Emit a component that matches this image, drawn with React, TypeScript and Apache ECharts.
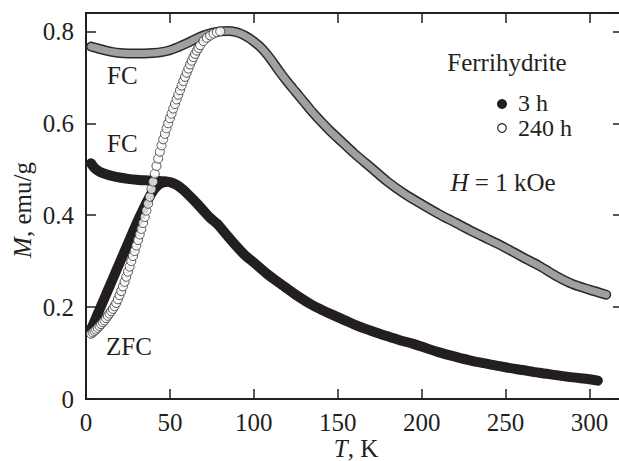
import React, { useEffect, useRef } from "react";
import * as echarts from "echarts";

// ---- Data (T in K, M in emu/g) ----
// 3 h sample, zero-field-cooled branch
const T_3H_ZFC = [3, 4, 6, 8, 10, 12, 14, 16, 18, 20, 22, 24, 26, 28, 30, 32, 34, 36, 38, 40, 42, 44, 46, 48];
const M_3H_ZFC = [0.153, 0.16, 0.177, 0.194, 0.211, 0.228, 0.245, 0.262, 0.279, 0.296, 0.313, 0.33, 0.347, 0.364, 0.381, 0.397, 0.412, 0.427, 0.441, 0.453, 0.462, 0.468, 0.471, 0.473];
// 3 h sample, field-cooled branch (and common high-T part)
const T_3H_FC = [3, 5, 8, 12, 16, 20, 25, 30, 35, 40, 45, 50, 54, 58, 62, 66, 70, 74, 78, 80, 85, 90, 95, 100, 108, 115, 120, 127, 135, 140, 147, 155, 160, 167, 175, 181, 187, 195, 200, 210, 221, 230, 240, 250, 260, 270, 280, 290, 300, 305];
const M_3H_FC = [0.513, 0.503, 0.495, 0.489, 0.485, 0.482, 0.479, 0.477, 0.476, 0.475, 0.474, 0.472, 0.466, 0.455, 0.441, 0.426, 0.41, 0.394, 0.382, 0.374, 0.352, 0.331, 0.312, 0.297, 0.272, 0.253, 0.24, 0.222, 0.204, 0.195, 0.183, 0.17, 0.162, 0.152, 0.142, 0.135, 0.128, 0.12, 0.114, 0.102, 0.091, 0.083, 0.076, 0.069, 0.063, 0.057, 0.052, 0.047, 0.043, 0.04];
// 240 h sample, zero-field-cooled branch
const T_240H_ZFC = [3, 4, 5, 6, 7, 8, 9, 10, 11, 12, 13, 14, 15, 16, 17, 18, 19, 20, 21, 22, 23, 24, 25, 26, 27, 28, 29, 30, 31, 32, 33, 34, 35, 36, 37, 38, 39, 40, 41, 42, 43, 44, 45, 46, 47, 48, 49, 50, 51, 52, 53, 54, 55, 56, 57, 58, 59, 60, 61, 62, 63, 64, 65, 66, 67, 68, 70, 72, 74, 76, 78, 80];
const M_240H_ZFC = [0.142, 0.145, 0.148, 0.151, 0.155, 0.159, 0.163, 0.167, 0.171, 0.176, 0.181, 0.186, 0.191, 0.196, 0.202, 0.209, 0.217, 0.226, 0.235, 0.245, 0.255, 0.266, 0.277, 0.288, 0.3, 0.311, 0.322, 0.334, 0.346, 0.358, 0.37, 0.383, 0.396, 0.41, 0.425, 0.44, 0.457, 0.473, 0.49, 0.507, 0.523, 0.538, 0.552, 0.565, 0.577, 0.589, 0.6, 0.611, 0.621, 0.632, 0.642, 0.652, 0.662, 0.672, 0.682, 0.692, 0.701, 0.71, 0.719, 0.728, 0.736, 0.744, 0.751, 0.758, 0.764, 0.77, 0.779, 0.786, 0.791, 0.795, 0.798, 0.8];
// 240 h sample, field-cooled branch (and common high-T part)
const T_240H_FC = [3, 5, 8, 12, 16, 20, 25, 30, 35, 40, 45, 50, 55, 60, 65, 70, 75, 80, 85, 90, 95, 100, 105, 110, 115, 120, 125, 130, 135, 140, 145, 150, 160, 170, 180, 190, 200, 210, 220, 230, 240, 250, 260, 270, 280, 290, 300, 310];
const M_240H_FC = [0.767, 0.765, 0.762, 0.758, 0.755, 0.753, 0.752, 0.752, 0.752, 0.753, 0.755, 0.759, 0.766, 0.774, 0.783, 0.791, 0.797, 0.8, 0.801, 0.798, 0.79, 0.778, 0.762, 0.74, 0.714, 0.69, 0.668, 0.646, 0.624, 0.604, 0.585, 0.568, 0.534, 0.503, 0.472, 0.446, 0.424, 0.403, 0.384, 0.365, 0.347, 0.329, 0.309, 0.29, 0.268, 0.25, 0.238, 0.227];

const X_TICKS = [0, 50, 100, 150, 200, 250, 300];
const Y_TICKS = [0, 0.2, 0.4, 0.6, 0.8];

const zip = (t: number[], m: number[]) => t.map((v, i) => [v, m[i]]);

const FONT = "'Liberation Serif', 'Times New Roman', serif";
const INK = "#231f20";

export default function App() {
  const ref = useRef<HTMLDivElement>(null);
  useEffect(() => {
    if (!ref.current) return;
    const chart = echarts.init(ref.current, undefined, { renderer: "svg" });
    const axisLine = () => ({ show: true, onZero: false, lineStyle: { color: INK, width: 2 } });
    const axisTick = () => ({ show: true, inside: true, length: 10, lineStyle: { color: INK, width: 1.5 } });
    const xFmt = (v: number) => (X_TICKS.some((t) => Math.abs(t - v) < 1e-6) ? String(v) : "");
    const yFmt = (v: number) => {
      const hit = Y_TICKS.find((t) => Math.abs(t - v) < 1e-6);
      if (hit === undefined) return "";
      return hit === 0 ? "0" : hit.toFixed(1);
    };
    chart.setOption({
      animation: false,
      grid: {
        left: 86, top: 13, width: 537, height: 386, containLabel: false, outerBoundsMode: "none",
        show: true, borderColor: INK, borderWidth: 2, backgroundColor: "transparent",
      },
      xAxis: [
        {
          type: "value", min: 0, max: 320, interval: 50, position: "bottom",
          axisLine: axisLine(), axisTick: axisTick(), splitLine: { show: false },
          axisLabel: { fontFamily: FONT, fontSize: 25, color: INK, margin: 11, formatter: xFmt, showMaxLabel: false },
        },
        {
          type: "value", min: 0, max: 320, interval: 50, position: "top",
          axisLine: axisLine(), axisTick: axisTick(), splitLine: { show: false }, axisLabel: { show: false },
        },
      ],
      yAxis: [
        {
          type: "value", min: 0, max: 0.84, interval: 0.2, position: "left",
          axisLine: axisLine(), axisTick: axisTick(), splitLine: { show: false },
          axisLabel: { fontFamily: FONT, fontSize: 25, color: INK, margin: 12, formatter: yFmt, showMaxLabel: false },
        },
        {
          type: "value", min: 0, max: 0.84, interval: 0.2, position: "right",
          axisLine: axisLine(), axisTick: axisTick(), splitLine: { show: false }, axisLabel: { show: false },
        },
      ],
      series: [
        {
          type: "line", data: zip(T_3H_ZFC, M_3H_ZFC), showSymbol: false, smooth: 0.3, z: 2,
          lineStyle: { color: INK, width: 10, cap: "round", join: "round" },
        },
        {
          type: "line", data: zip(T_3H_FC, M_3H_FC), showSymbol: false, smooth: 0.3, z: 2,
          lineStyle: { color: INK, width: 10, cap: "round", join: "round" },
        },
        {
          type: "line", data: zip(T_240H_FC, M_240H_FC), showSymbol: false, smooth: 0.3, z: 3,
          lineStyle: { color: "#2a2a2a", width: 10, cap: "round", join: "round" },
        },
        {
          type: "line", data: zip(T_240H_FC, M_240H_FC), showSymbol: false, smooth: 0.3, z: 4,
          lineStyle: { color: "#a0a0a0", width: 7, cap: "round", join: "round" },
        },
        {
          type: "scatter", data: zip(T_240H_ZFC, M_240H_ZFC), symbol: "circle", symbolSize: 9, z: 5,
          itemStyle: { color: "#ffffff", borderColor: "#2a2a2a", borderWidth: 1 },
        },
      ],
      graphic: [
        { type: "text", left: 107, top: 63, style: { text: "FC", font: `25px ${FONT}`, fill: INK } },
        { type: "text", left: 107, top: 131, style: { text: "FC", font: `25px ${FONT}`, fill: INK } },
        { type: "text", left: 106, top: 334, style: { text: "ZFC", font: `25px ${FONT}`, fill: INK } },
        { type: "text", x: 507, y: 62, style: { text: "Ferrihydrite", font: `25px ${FONT}`, fill: INK, align: "center", verticalAlign: "middle" } },
        { type: "circle", shape: { cx: 502, cy: 104, r: 5 }, style: { fill: INK } },
        { type: "circle", shape: { cx: 502, cy: 128, r: 4.3 }, style: { fill: "#fff", stroke: INK, lineWidth: 1.2 } },
        { type: "text", x: 518, y: 102.5, style: { text: "3 h", font: `24px ${FONT}`, fill: INK, align: "left", verticalAlign: "middle" } },
        { type: "text", x: 518, y: 127.5, style: { text: "240 h", font: `24px ${FONT}`, fill: INK, align: "left", verticalAlign: "middle" } },
        {
          type: "text", x: 503, y: 182,
          style: {
            text: "{i|H} = 1 kOe", fill: INK, align: "center", verticalAlign: "middle", font: `25px ${FONT}`,
            rich: { i: { fontFamily: FONT, fontSize: 25, fontStyle: "italic", fill: INK } },
          },
        },
        {
          type: "text", x: 356, y: 448,
          style: {
            text: "{i|T}, K", fill: INK, align: "center", verticalAlign: "middle", font: `25px ${FONT}`, lineHeight: 22,
            rich: { i: { fontFamily: FONT, fontSize: 25, fontStyle: "italic", fill: INK, lineHeight: 22 } },
          },
        },
        {
          type: "text", x: 22, y: 210, rotation: Math.PI / 2,
          style: {
            text: "{i|M}, emu/g", fill: INK, align: "center", verticalAlign: "middle", font: `25px ${FONT}`,
            rich: { i: { fontFamily: FONT, fontSize: 25, fontStyle: "italic", fill: INK } },
          },
        },
      ],
    });
    return () => chart.dispose();
  }, []);
  return (
    <div
      ref={ref}
      style={{ position: "fixed", left: 0, top: 0, width: 619, height: 461, background: "#fff" }}
    />
  );
}
